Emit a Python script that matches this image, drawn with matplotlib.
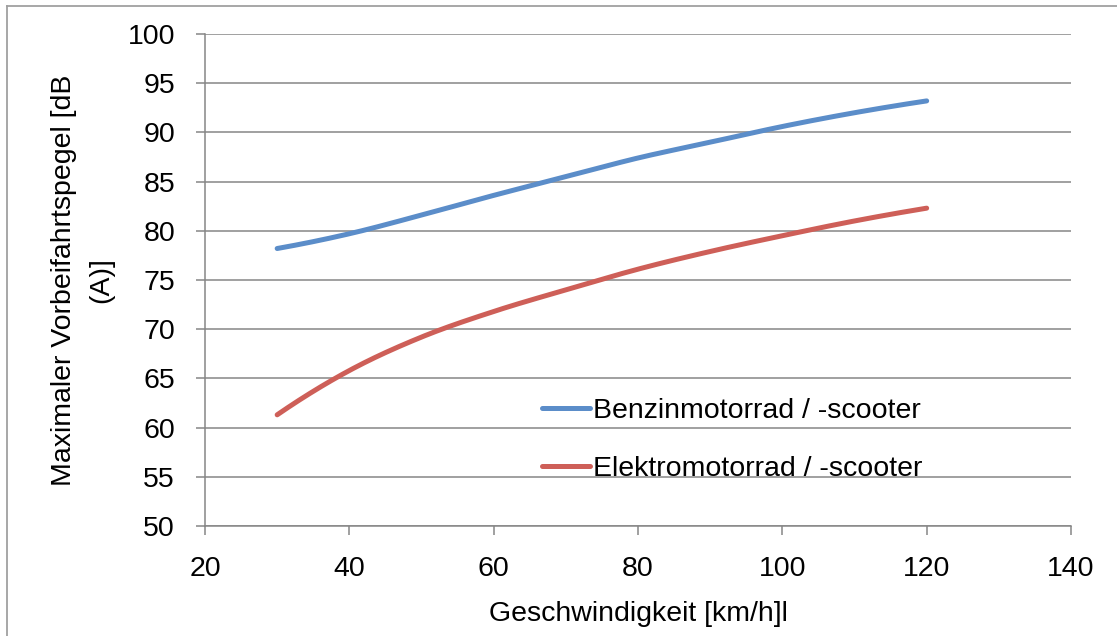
import numpy as np
import matplotlib
matplotlib.use("Agg")
import matplotlib.pyplot as plt
from matplotlib.lines import Line2D

plt.rcParams['font.family'] = ['Liberation Sans', 'DejaVu Sans']

# Geschwindigkeit [km/h]
speed = [30, 40, 50, 60, 70, 80, 90, 100, 110, 120]
# Benzinmotorrad / -scooter
benzin = [78.2, 79.7, 81.6, 83.6, 85.5, 87.4, 89.0, 90.6, 92.0, 93.2]
# Elektromotorrad / -scooter
elektro = [61.3, 65.8, 69.2, 71.8, 74.0, 76.1, 77.9, 79.5, 81.0, 82.3]

labels = ["Benzinmotorrad / -scooter", "Elektromotorrad / -scooter"]
xticks = [20, 40, 60, 80, 100, 120, 140]
yticks = [50, 55, 60, 65, 70, 75, 80, 85, 90, 95, 100]

grey = "#868686"
fs = 20.5

fig = plt.figure(figsize=(11.17, 6.36), dpi=100)
ax = fig.add_axes([205/1117, 1 - 526/636, 866/1117, 492/636])

# smoothed line like excel (catmull-rom through the read points)
def smooth(x, y, n=300):
    x = np.asarray(x, float)
    y = np.asarray(y, float)
    m0 = (-3*y[0] + 4*y[1] - y[2]) / 2
    m1 = (y[-3] - 4*y[-2] + 3*y[-1]) / 2
    ext = np.concatenate([[y[1] - 2*m0], y, [y[-2] + 2*m1]])
    xs = np.linspace(x[0], x[-1], n)
    out = []
    for xv in xs:
        i = min(np.searchsorted(x, xv, side="right") - 1, len(x) - 2)
        t = (xv - x[i]) / (x[i+1] - x[i])
        p0, p1, p2, p3 = ext[i], ext[i+1], ext[i+2], ext[i+3]
        out.append(0.5*((2*p1) + (-p0 + p2)*t + (2*p0 - 5*p1 + 4*p2 - p3)*t**2
                        + (-p0 + 3*p1 - 3*p2 + p3)*t**3))
    return xs, np.array(out)

xb, yb = smooth(speed, benzin)
xe, ye = smooth(speed, elektro)
ax.plot(xb, yb, color="#5B8DC9", lw=3.6, solid_capstyle="round", label=labels[0], zorder=3)
ax.plot(xe, ye, color="#CE5F58", lw=3.6, solid_capstyle="round", label=labels[1], zorder=3)

ax.set_xlim(20, 140)
ax.set_ylim(50, 100)
ax.set_xticks(xticks)
ax.set_yticks(yticks)
ax.grid(axis="y", color=grey, lw=1.1)
ax.set_axisbelow(True)

for s in ["top", "right"]:
    ax.spines[s].set_visible(False)
for s in ["left", "bottom"]:
    ax.spines[s].set_color(grey)
    ax.spines[s].set_linewidth(1.1)

ax.tick_params(axis="both", direction="out", length=6.5, width=1.1, color=grey,
               labelsize=fs, pad=15)

ax.set_xlabel("Geschwindigkeit [km/h]l", fontsize=fs, labelpad=14)
ax.set_ylabel("Maximaler Vorbeifahrtspegel [dB\n(A)]", fontsize=fs, labelpad=10,
              linespacing=1.55)

ax.legend(loc="center left", bbox_to_anchor=(0.389, 0.175), frameon=False,
          fontsize=fs, handlelength=1.7, handletextpad=0.1, labelspacing=1.1,
          borderpad=0, borderaxespad=0)

# outer border of the chart area
fig.add_artist(Line2D([7/1117, 1], [1 - 6/636, 1 - 6/636], color="#A0A0A0", lw=1.3,
                      transform=fig.transFigure))
fig.add_artist(Line2D([7/1117, 7/1117], [0, 1 - 6/636], color="#A0A0A0", lw=1.3,
                      transform=fig.transFigure))

fig.savefig("out.png", dpi=100)
